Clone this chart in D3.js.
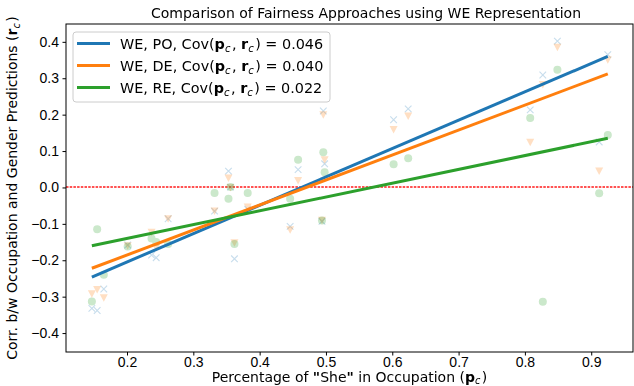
<!DOCTYPE html>
<html>
<head>
<meta charset="utf-8">
<script src="https://cdn.jsdelivr.net/npm/d3@7"></script>
<style>
  body { margin: 0; background: #fff; }
  svg { display: block; font-family: "DejaVu Sans", sans-serif; }
  .axis text { font-size: 14px; fill: #000; }
  .axis path, .axis line { stroke: #000; stroke-width: 1; }
</style>
</head>
<body>
<svg id="chart" width="634" height="386"></svg>
<script>
'use strict';

// Percentage of "she" per occupation (p_c).
var occupationShare = [0.147, 0.155, 0.165, 0.201, 0.237, 0.244, 0.262, 0.332, 0.353, 0.356,
    0.362, 0.382, 0.446, 0.458, 0.494, 0.496, 0.498, 0.602, 0.624, 0.808,
    0.827, 0.849, 0.912, 0.925];

// Correlation of occupation and gender predictions (r_c), one array per approach.
var poValues = [-0.332, -0.338, -0.279, -0.158, -0.186, -0.193, -0.086, -0.065, 0.045, 0.001,
    -0.196, -0.060, -0.107, 0.049, -0.093, 0.210, 0.065, 0.186, 0.216, 0.213,
    0.309, 0.402, 0.125, 0.365];
var deValues = [-0.292, -0.280, -0.303, -0.160, -0.123, -0.165, -0.086, -0.065, 0.026, 0.000,
    -0.152, -0.054, -0.116, 0.019, -0.090, 0.200, 0.076, 0.159, 0.196, 0.124,
    0.283, 0.385, 0.045, 0.351];
var reValues = [-0.313, -0.115, -0.240, -0.162, -0.140, -0.150, -0.155, -0.015, -0.031, 0.001,
    -0.155, -0.015, -0.031, 0.076, -0.091, 0.097, 0.042, 0.064, 0.080, 0.191,
    -0.314, 0.323, -0.016, 0.144];

var seriesNames = ['PO', 'DE', 'RE'];
var covLabels = ['0.046', '0.040', '0.022'];
// Fitted line value at smallest and largest p_c.
var fitStart = [-0.246, -0.222, -0.160];
var fitEnd = [0.360, 0.312, 0.135];

var xTicks = [0.2, 0.3, 0.4, 0.5, 0.6, 0.7, 0.8, 0.9];
var yTicks = [-0.4, -0.3, -0.2, -0.1, 0.0, 0.1, 0.2, 0.3, 0.4];

var colours = ['#1f77b4', '#ff7f0e', '#2ca02c'];
var markers = ['x', 'v', 'o'];
var allValues = [poValues, deValues, reValues];

var margin = {top: 24, right: 1, bottom: 34, left: 66};
var width = 634 - margin.left - margin.right;
var height = 386 - margin.top - margin.bottom;

var svg = d3.select('#chart');
var g = svg.append('g')
    .attr('transform', 'translate(' + margin.left + ',' + margin.top + ')');

var x = d3.scaleLinear().domain([0.108, 0.963]).range([0, width]);
var y = d3.scaleLinear().domain([-0.452, 0.449]).range([height, 0]);

// Axes
var fmt = d3.format('.1f');
g.append('g')
    .attr('class', 'axis')
    .attr('transform', 'translate(0,' + height + ')')
    .call(d3.axisBottom(x).tickValues(xTicks).tickFormat(fmt).tickSize(3.5).tickPadding(1.5))
    .call(function(sel) { sel.select('.domain').remove(); });

g.append('g')
    .attr('class', 'axis')
    .call(d3.axisLeft(y).tickValues(yTicks).tickFormat(fmt).tickSize(3.5).tickPadding(3.5))
    .call(function(sel) { sel.select('.domain').remove(); });

// Zero reference line (dotted red)
var zeroY = Math.round(y(0));
g.append('line')
    .attr('class', 'zero-line')
    .attr('x1', 0).attr('x2', width)
    .attr('y1', zeroY).attr('y2', zeroY)
    .style('stroke', '#ff1a1a')
    .style('stroke-width', 1.6)
    .style('stroke-dasharray', '2.5,1.2');

// Scatter markers, faint
function drawMarker(sel, type, colour) {
    if (type === 'x') {
        sel.append('path')
            .attr('d', 'M-3.3,-3.3L3.3,3.3M-3.3,3.3L3.3,-3.3')
            .attr('stroke', colour).attr('stroke-width', 1.1).attr('fill', 'none');
    } else if (type === 'v') {
        sel.append('path')
            .attr('d', 'M-4,-3.5L4,-3.5L0,4Z')
            .attr('fill', colour);
    } else {
        sel.append('circle').attr('r', 4).attr('fill', colour);
    }
}

allValues.forEach(function(values, i) {
    var pts = g.append('g')
        .attr('opacity', 0.25)
        .selectAll('g')
        .data(values)
        .enter()
        .append('g')
            .attr('transform', function(d, j) {
                return 'translate(' + x(occupationShare[j]) + ',' + y(d) + ')';
            });
    drawMarker(pts, markers[i], colours[i]);
});

// Fitted lines
var xMin = d3.min(occupationShare);
var xMax = d3.max(occupationShare);
seriesNames.forEach(function(name, i) {
    g.append('line')
        .attr('x1', x(xMin)).attr('y1', y(fitStart[i]))
        .attr('x2', x(xMax)).attr('y2', y(fitEnd[i]))
        .attr('stroke', colours[i])
        .attr('stroke-width', 3);
});

// Frame
g.append('rect')
    .attr('width', width).attr('height', height)
    .attr('fill', 'none').attr('stroke', '#000').attr('stroke-width', 1);

// Write "bold p, italic subscript c" style math into a text element.
function addSymbol(text, letter) {
    text.append('tspan').attr('font-weight', 'bold').text(letter);
    text.append('tspan').attr('font-style', 'italic').attr('font-size', '0.7em')
        .attr('dy', 2.5).text('c');
    text.append('tspan').attr('dy', -2.5).text('\u200a');
}

// Legend
var legend = g.append('g').attr('transform', 'translate(7,8)');
legend.append('rect')
    .attr('width', 257).attr('height', 70)
    .attr('rx', 3)
    .attr('fill', '#fff').attr('fill-opacity', 0.8)
    .attr('stroke', '#ccc').attr('stroke-width', 1);

var legendItems = legend.selectAll('.legend__item')
    .data(seriesNames)
    .enter()
    .append('g')
        .classed('legend__item', true)
        .attr('transform', function(d, i) { return 'translate(0,' + (11.5 + i * 22) + ')'; });

legendItems.append('line')
    .attr('x1', 4).attr('x2', 37)
    .attr('stroke', function(d, i) { return colours[i]; })
    .attr('stroke-width', 3);

legendItems.each(function(d, i) {
    var t = d3.select(this).append('text')
        .attr('x', 47).attr('y', 5.5)
        .attr('font-size', '14.4px');
    t.append('tspan').text('WE, ' + d + ', Cov(');
    addSymbol(t, 'p');
    t.append('tspan').text(', ');
    addSymbol(t, 'r');
    t.append('tspan').text(') = ' + covLabels[i]);
});

// Title and axis labels
svg.append('text')
    .attr('x', 366).attr('y', 18)
    .attr('text-anchor', 'middle')
    .attr('font-size', '14px')
    .text('Comparison of Fairness Approaches using WE Representation');

var xLabel = svg.append('text')
    .attr('x', margin.left + width / 2).attr('y', 381.5)
    .attr('text-anchor', 'middle')
    .attr('font-size', '14px');
xLabel.append('tspan').text('Percentage of ');
xLabel.append('tspan').attr('font-weight', 'bold').text('"');
xLabel.append('tspan').text('She');
xLabel.append('tspan').attr('font-weight', 'bold').text('"');
xLabel.append('tspan').text(' in Occupation (');
addSymbol(xLabel, 'p');
xLabel.append('tspan').text(')');

var yLabel = svg.append('text')
    .attr('transform', 'translate(17,' + (margin.top + height / 2) + ') rotate(-90)')
    .attr('text-anchor', 'middle')
    .attr('font-size', '14px');
yLabel.append('tspan').text('Corr. b/w Occupation and Gender Predictions (');
addSymbol(yLabel, 'r');
yLabel.append('tspan').text(')');
</script>
</body>
</html>
